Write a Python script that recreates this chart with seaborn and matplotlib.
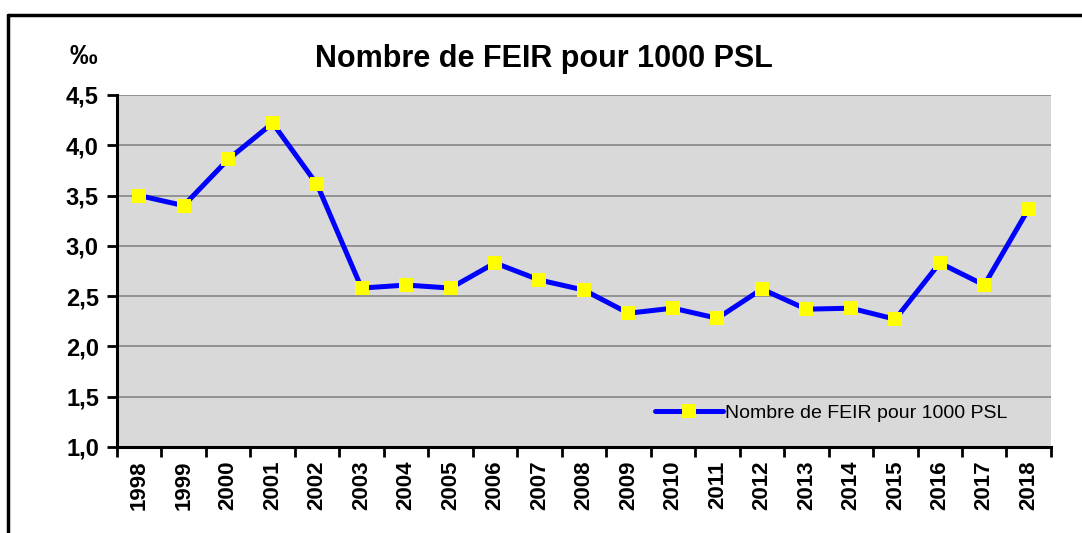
"""Nombre de FEIR pour 1000 PSL, 1998-2018"""

import matplotlib
matplotlib.use("Agg")
import matplotlib.pyplot as plt
from matplotlib.lines import Line2D
from matplotlib.ticker import FuncFormatter, MultipleLocator
import pandas as pd
import seaborn as sns

years = list(range(1998, 2019))
feir_rate = [3.50, 3.40, 3.86, 4.22, 3.61, 2.58, 2.61, 2.58, 2.83, 2.66, 2.56,
             2.33, 2.38, 2.28, 2.57, 2.37, 2.38, 2.27, 2.83, 2.61, 3.37]
series_label = "Nombre de FEIR pour 1000 PSL"
title = "Nombre de FEIR pour 1000 PSL"
unit = "‰"

df = pd.DataFrame({"annee": years, "taux": feir_rate})

sns.set_style("white")
plt.rcParams["font.family"] = ["Liberation Sans", "DejaVu Sans"]
plt.rcParams["text.color"] = "black"
plt.rcParams["xtick.color"] = "black"
plt.rcParams["ytick.color"] = "black"

fig = plt.figure(figsize=(10.82, 5.33), dpi=100)
ax = fig.add_axes([0.1081, 0.1614, 0.8632, 0.6604])
ax.set_facecolor("#D9D9D9")

sns.lineplot(data=df, x="annee", y="taux", ax=ax, color="#0000FF", linewidth=3.6,
             marker="s", markersize=9.5, markerfacecolor="#FFFF00",
             markeredgewidth=0, label=series_label)

ax.set_xlim(years[0] - 0.5, years[-1] + 0.5)
ax.set_ylim(1.0, 4.5)
ax.yaxis.set_major_locator(MultipleLocator(0.5))
ax.yaxis.set_major_formatter(FuncFormatter(lambda v, p: f"{v:.1f}".replace(".", ",")))
ax.grid(axis="y", color="#8C8C8C", linewidth=1.3)
ax.set_axisbelow(True)

# years centred, tick marks between categories
ax.set_xticks(years)
ax.set_xticklabels([str(y) for y in years], rotation=90, fontsize=16,
                   fontweight="bold", color="black")
ax.set_xticks([y - 0.5 for y in years] + [years[-1] + 0.5], minor=True)
ax.tick_params(axis="x", which="major", length=0, pad=10)
ax.tick_params(axis="x", which="minor", length=7, width=2, direction="out", bottom=True)
ax.tick_params(axis="y", length=7, width=2, direction="out", left=True, pad=6)
for lab in ax.get_yticklabels():
    lab.set_fontsize(17)
    lab.set_fontweight("bold")
    lab.set_color("black")

for s in ["top", "right"]:
    ax.spines[s].set_visible(False)
for s in ["left", "bottom"]:
    ax.spines[s].set_color("black")
    ax.spines[s].set_linewidth(2.2)

ax.set_xlabel("")
ax.set_ylabel("")

leg = ax.legend(loc="lower right", bbox_to_anchor=(0.972, 0.021), frameon=False,
                fontsize=14, handlelength=3.5, handletextpad=0.1)
for t in leg.get_texts():
    t.set_color("black")

fig.text(0.503, 0.890, title, ha="center", va="center", fontsize=22, fontweight="bold")
fig.text(0.077, 0.893, unit, ha="center", va="center", fontsize=20, fontweight="bold")

# outer frame (top and left edges)
fig.add_artist(Line2D([0.0074, 1.0], [0.972, 0.972], color="black", linewidth=2.5))
fig.add_artist(Line2D([0.0074, 0.0074], [0.0, 0.972], color="black", linewidth=2.5))

fig.savefig("out.png", dpi=100)
